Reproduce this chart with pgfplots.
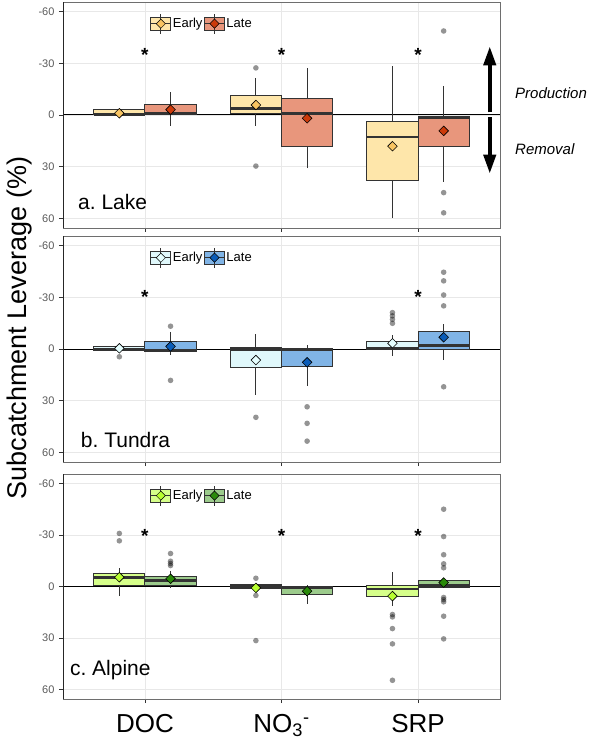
\documentclass[border=0pt]{standalone}
\usepackage{fontspec}
\setmainfont{Liberation Sans}
\usepackage{pgfplots}
\pgfplotsset{compat=1.18}
\usepgfplotslibrary{statistics}
\usetikzlibrary{arrows.meta}
\frenchspacing
\definecolor{bxline}{HTML}{333333}
\definecolor{tickgray}{HTML}{5A5A5A}
\definecolor{framegray}{HTML}{6E6E6E}
\definecolor{lakeE}{HTML}{FEE6AA}
\definecolor{lakeL}{HTML}{E8967C}
\definecolor{lakeEm}{HTML}{F8C462}
\definecolor{lakeLm}{HTML}{CC3A0A}
\definecolor{tunE}{HTML}{E0F8FB}
\definecolor{tunL}{HTML}{80B4E6}
\definecolor{tunEm}{HTML}{E6FFFF}
\definecolor{tunLm}{HTML}{0A5CB8}
\definecolor{alpE}{HTML}{D6FF8A}
\definecolor{alpL}{HTML}{9CCB8C}
\definecolor{alpEm}{HTML}{B8FF30}
\definecolor{alpLm}{HTML}{2A8A0A}

% boxplot: pos, lower whisker, lower quartile, median, upper quartile, upper whisker, fill, outliers
\newcommand{\bp}[8]{\addplot[boxplot/draw direction=y, boxplot prepared={draw position=#1, lower whisker=#2, lower quartile=#3, median=#4, upper quartile=#5, upper whisker=#6, box extend=0.375, whisker extend=0}, draw=bxline, line width=1pt, fill=#7, solid, mark=*, mark size=2.8pt, mark options={draw opacity=0, draw=none, fill=black, fill opacity=0.42}, boxplot/every median/.style={line width=2.6pt}] coordinates {#8};}
% means
\newcommand{\mn}[2]{\addplot[only marks, mark=square*, mark size=3.4pt, mark options={rotate=45, fill=#1, draw=black, line width=0.6pt}] coordinates {#2};}
% legend key
\newcommand{\lgkey}[2]{%
  \draw[bxline, line width=0.8pt, fill=#1] (0pt,-6.3pt) rectangle (20pt,6.3pt);
  \draw[bxline, line width=1.4pt] (0pt,0pt) -- (20pt,0pt);
  \draw[bxline, line width=0.8pt] (10pt,-10pt) -- (10pt,10pt);
  \draw[black, line width=0.5pt, fill=#2] (10pt,4.6pt) -- (14.6pt,0pt) -- (10pt,-4.6pt) -- (5.4pt,0pt) -- cycle;}

\pgfplotsset{panel/.style={
  scale only axis, width=437pt, height=226pt,
  xmin=0.4, xmax=3.6, ymin=-65.5, ymax=65.5, y dir=reverse,
  xtick={1,2,3}, xticklabels={,,}, ytick={-60,-30,0,30,60},
  grid=major, major grid style={color=black!9, line width=0.6pt},
  tick align=outside, tick pos=left, major tick length=4pt,
  axis line style={color=framegray, line width=0.8pt},
  tick style={color=bxline, line width=0.6pt},
  yticklabel style={font=\fontsize{11}{11}\selectfont, text=tickgray, xshift=-1pt},
  /pgf/number format/assume math mode=true,
  clip=false,
  legend columns=2,
  legend style={draw=none, fill=none, at={(0.199,0.951)}, anchor=north west,
    font=\fontsize{13}{13}\selectfont, inner sep=0pt,
    nodes={inner sep=1.3pt},
    /tikz/every even column/.append style={column sep=0pt}},
}}

\begin{document}
\begin{tikzpicture}[x=1pt,y=1pt]

% ---------------- a. Lake ----------------
\begin{axis}[panel, at={(63pt,514pt)}, anchor=south west]
\addlegendimage{legend image code/.code={\lgkey{lakeE}{lakeEm}}}
\addlegendentry{Early}
\addlegendimage{legend image code/.code={\lgkey{lakeL}{lakeLm}}}
\addlegendentry{Late}
\addplot[black, line width=1pt] coordinates {(0.4,0) (3.6,0)};
\bp{0.8125}{-3.5}{-3.1}{-0.4}{0}{0.5}{lakeE}{}
\bp{1.1875}{-13.3}{-5.9}{-1.2}{0}{6.2}{lakeL}{}
\bp{1.8125}{-21.7}{-11.2}{-3.9}{-1.0}{6.3}{lakeE}{(0,-27.3) (0,29.6)}
\bp{2.1875}{-27.3}{-9.4}{-0.8}{18.1}{31}{lakeL}{}
\bp{2.8125}{-28.3}{3.9}{12.7}{38.1}{59.6}{lakeE}{}
\bp{3.1875}{-16.9}{1.0}{1.5}{18.1}{38.7}{lakeL}{(0,-48.7) (0,45) (0,56.7)}
\mn{lakeEm}{(0.8125,-1.0) (1.8125,-5.8) (2.8125,18.1)}
\mn{lakeLm}{(1.1875,-3.1) (2.1875,1.9) (3.1875,9.2)}
\node[font=\bfseries\fontsize{19}{19}\selectfont, yshift=-4pt] at (axis cs:1,-37) {*};
\node[font=\bfseries\fontsize{19}{19}\selectfont, yshift=-4pt] at (axis cs:2,-37) {*};
\node[font=\bfseries\fontsize{19}{19}\selectfont, yshift=-4pt] at (axis cs:3,-37) {*};
\node[anchor=base west, font=\fontsize{21}{21}\selectfont, inner sep=0pt] at (axis cs:0.51,54.8) {a. Lake};
\draw[line width=4pt, -{Triangle[width=12pt,length=19pt]}] (axis cs:3.525,-1.5) -- (axis cs:3.525,-39.8);
\draw[line width=4pt, -{Triangle[width=12pt,length=19pt]}] (axis cs:3.525,1.2) -- (axis cs:3.525,34);
\node[anchor=west, font=\itshape\fontsize{15}{15}\selectfont, inner sep=0pt] at (axis cs:3.71,-12.7) {Production};
\node[anchor=west, font=\itshape\fontsize{15}{15}\selectfont, inner sep=0pt] at (axis cs:3.71,19.6) {Removal};
\draw[black!85, line width=0.9pt] (rel axis cs:0,0) -- (rel axis cs:0,1);
\end{axis}

% ---------------- b. Tundra ----------------
\begin{axis}[panel, at={(63pt,280pt)}, anchor=south west]
\addlegendimage{legend image code/.code={\lgkey{tunE}{tunEm}}}
\addlegendentry{Early}
\addlegendimage{legend image code/.code={\lgkey{tunL}{tunLm}}}
\addlegendentry{Late}
\addplot[black, line width=1pt] coordinates {(0.4,0) (3.6,0)};
\bp{0.8125}{-1.3}{-1.3}{0}{1.0}{1.0}{tunE}{(0,4.5)}
\bp{1.1875}{-10.1}{-4.3}{0.6}{1.4}{3.5}{tunL}{(0,-13.2) (0,18.2)}
\bp{1.8125}{-8.5}{-1.0}{0.2}{10.8}{26.9}{tunE}{(0,39.6)}
\bp{2.1875}{-2.3}{-0.4}{0.2}{9.9}{21.5}{tunL}{(0,33.5) (0,43.1) (0,53.4)}
\bp{2.8125}{-8.1}{-4.6}{-0.6}{0}{4.1}{tunE}{(0,-21.1) (0,-19.2) (0,-17.2) (0,-14.9)}
\bp{3.1875}{-14.3}{-9.9}{-1.9}{0}{6.4}{tunL}{(0,-44.5) (0,-39.5) (0,-31.3) (0,-25) (0,21.9)}
\mn{tunEm}{(0.8125,-0.4) (1.8125,6.4) (2.8125,-3.3)}
\mn{tunLm}{(1.1875,-1.5) (2.1875,7.7) (3.1875,-6.8)}
\node[font=\bfseries\fontsize{19}{19}\selectfont, yshift=-4pt] at (axis cs:1,-32.5) {*};
\node[font=\bfseries\fontsize{19}{19}\selectfont, yshift=-4pt] at (axis cs:3,-32.5) {*};
\node[anchor=base west, font=\fontsize{21}{21}\selectfont, inner sep=0pt] at (axis cs:0.53,56.9) {b. Tundra};
\draw[black!85, line width=0.9pt] (rel axis cs:0,0) -- (rel axis cs:0,1);
\end{axis}

% ---------------- c. Alpine ----------------
\begin{axis}[panel, at={(63pt,43pt)}, anchor=south west, height=225pt,
  xticklabels={DOC, NO\textsubscript{3}\textsuperscript{-}, SRP},
  xticklabel style={font=\fontsize{26}{26}\selectfont, text=black, yshift=-8pt}]
\addlegendimage{legend image code/.code={\lgkey{alpE}{alpEm}}}
\addlegendentry{Early}
\addlegendimage{legend image code/.code={\lgkey{alpL}{alpLm}}}
\addlegendentry{Late}
\addplot[black, line width=1pt] coordinates {(0.4,0) (3.6,0)};
\bp{0.8125}{-10.5}{-7.6}{-5.1}{-0.6}{5.8}{alpE}{(0,-30.9) (0,-26.6)}
\bp{1.1875}{-9.1}{-5.6}{-3.5}{-0.6}{0.6}{alpL}{(0,-19.2) (0,-14.7) (0,-13.4) (0,-12.2)}
\bp{1.8125}{-1.2}{-1.2}{0}{1.0}{1.0}{alpE}{(0,-4.8) (0,5.2) (0,31.5)}
\bp{2.1875}{-0.8}{0}{0.8}{4.7}{10.1}{alpL}{}
\bp{2.8125}{-8.4}{-0.6}{1.4}{6.0}{11.1}{alpE}{(0,16.3) (0,17.7) (0,24.5) (0,33.4) (0,54.6)}
\bp{3.1875}{-3.3}{-3.3}{-0.6}{0.6}{0.6}{alpL}{(0,-45) (0,-29.1) (0,-18.5) (0,-13.2) (0,-10.9) (0,6.4) (0,7.6) (0,8.9) (0,17.3) (0,30.5)}
\mn{alpEm}{(0.8125,-5.4) (1.8125,0.8) (2.8125,5.6)}
\mn{alpLm}{(1.1875,-4.5) (2.1875,2.7) (3.1875,-2.3)}
\node[font=\bfseries\fontsize{19}{19}\selectfont, yshift=-4pt] at (axis cs:1,-32) {*};
\node[font=\bfseries\fontsize{19}{19}\selectfont, yshift=-4pt] at (axis cs:2,-32) {*};
\node[font=\bfseries\fontsize{19}{19}\selectfont, yshift=-4pt] at (axis cs:3,-32) {*};
\node[anchor=base west, font=\fontsize{21}{21}\selectfont, inner sep=0pt] at (axis cs:0.45,51.8) {c. Alpine};
\draw[black!85, line width=0.9pt] (rel axis cs:0,0) -- (rel axis cs:0,1);
\end{axis}

\node[rotate=90, font=\fontsize{27}{27}\selectfont] at (20,414) {Subcatchment Leverage (\%)};

\pgfresetboundingbox
\path[use as bounding box] (0,0) rectangle (597,742);
\end{tikzpicture}
\end{document}
